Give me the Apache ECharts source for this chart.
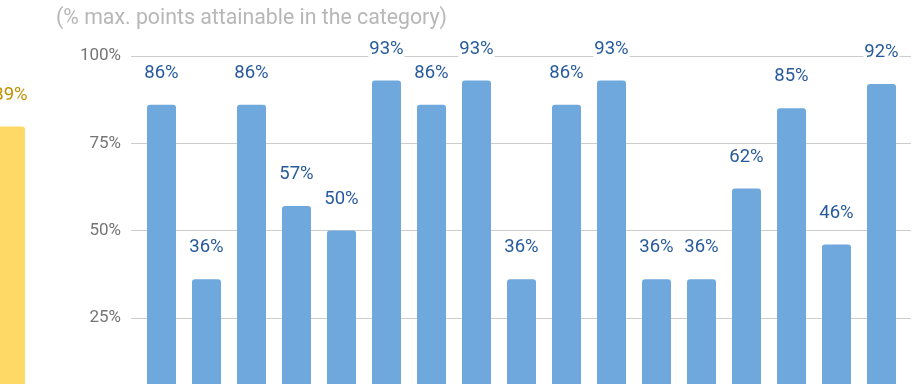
<!DOCTYPE html>
<html>
<head>
<meta charset="utf-8">
<script src="https://cdn.jsdelivr.net/npm/echarts@6/dist/echarts.min.js"></script>
<style>
  html, body { margin: 0; padding: 0; background: #fff; }
  #chart { width: 923px; height: 384px; }
</style>
</head>
<body>
<div id="chart"></div>
<script>
// categories are unnamed in the crop, one entry per bar
var categories = ["c1", "c2", "c3", "c4", "c5", "c6", "c7", "c8", "c9", "c10", "c11", "c12", "c13", "c14", "c15", "c16", "c17"];
var scores = [86, 36, 86, 57, 50, 93, 86, 93, 36, 86, 93, 36, 36, 62, 85, 46, 92];
var yTicks = [0, 25, 50, 75, 100];
// the neighbouring (yellow) chart, only partly visible at the left edge
var sideCategories = ["total"];
var sideScores = [89];

(function () {
  var myChart = echarts.init(document.getElementById("chart"));

  var option = {
    animation: false,
    title: {
      text: "(% max. points attainable in the category)",
      left: 51,
      top: 3,
      textStyle: {
        color: "#b7b7b7",
        fontFamily: "Roboto",
        fontSize: 21.3,
        fontWeight: "normal",
      },
    },
    grid: [
      // gridlines + y labels
      { left: 131, right: 12, top: 56, height: 349, outerBoundsMode: "none" },
      // bars
      { left: 139, right: 19, top: 56, height: 349, outerBoundsMode: "none" },
      // yellow chart at the left
      { left: -17, width: 55, top: 92, height: 313, outerBoundsMode: "none" },
    ],
    xAxis: [
      { gridIndex: 0, type: "category", data: categories, show: false },
      { gridIndex: 1, type: "category", data: categories, show: false },
      { gridIndex: 2, type: "category", data: sideCategories, show: false },
    ],
    yAxis: [
      {
        gridIndex: 0,
        type: "value",
        min: yTicks[0],
        max: yTicks[yTicks.length - 1],
        interval: 25,
        axisLine: { show: false },
        axisTick: { show: false },
        axisLabel: {
          formatter: function (v) {
            return v === 0 ? "" : v + "%";
          },
          color: "#757575",
          fontFamily: "Roboto",
          fontSize: 17,
          margin: 10,
        },
        splitLine: { lineStyle: { color: "#cccccc", width: 1 } },
      },
      { gridIndex: 1, type: "value", min: 0, max: 100, show: false },
      { gridIndex: 2, type: "value", min: 0, max: 100, show: false },
    ],
    series: [
      {
        type: "bar",
        xAxisIndex: 1,
        yAxisIndex: 1,
        data: scores,
        barWidth: 29,
        z: 3,
        itemStyle: { color: "#6fa8dc", borderRadius: [3, 3, 0, 0] },
        label: {
          show: true,
          position: "top",
          distance: 22,
          formatter: "{c}%",
          color: "#275a9c",
          fontFamily: "Roboto",
          fontSize: 18.5,
          backgroundColor: "#ffffff",
          padding: [0, 1],
        },
      },
      {
        type: "bar",
        xAxisIndex: 2,
        yAxisIndex: 2,
        data: sideScores,
        barWidth: 29,
        itemStyle: { color: "#ffd966", borderRadius: [3, 3, 0, 0] },
        label: {
          show: true,
          position: "top",
          distance: 22,
          formatter: "{c}%",
          color: "#bf9000",
          fontFamily: "Roboto",
          fontSize: 18.5,
        },
      },
    ],
  };

  myChart.setOption(option);
  window.addEventListener("resize", function () {
    myChart.resize();
  });
})();
</script>
</body>
</html>
